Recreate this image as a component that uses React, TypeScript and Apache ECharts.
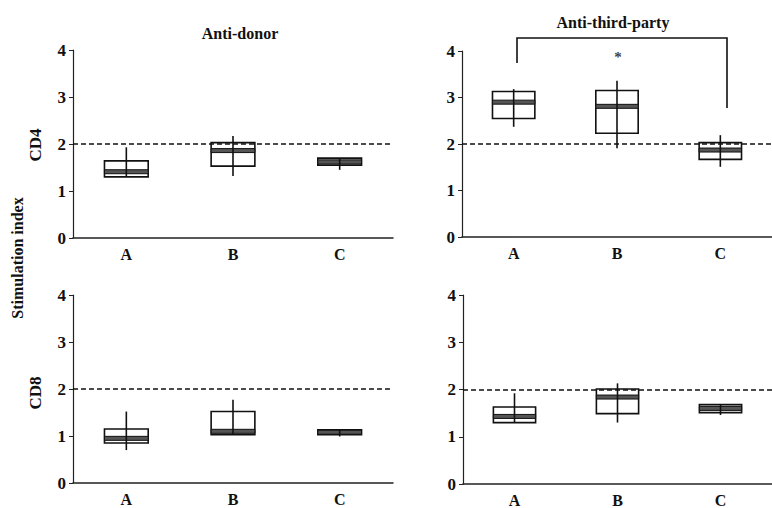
import React, { useEffect, useRef } from "react";
import * as echarts from "echarts";

const categories = ["A", "B", "C"];
const yTicks = [0, 1, 2, 3, 4];
const threshold = 2;

// rows: [min, q1, median, q3, max] for A, B, C
const cd4AntiDonor = [
  [1.3, 1.3, 1.41, 1.64, 1.93],
  [1.32, 1.53, 1.86, 2.03, 2.17],
  [1.45, 1.55, 1.62, 1.7, 1.7],
];
const cd4AntiThirdParty = [
  [2.37, 2.55, 2.9, 3.13, 3.18],
  [1.91, 2.23, 2.81, 3.15, 3.36],
  [1.51, 1.67, 1.87, 2.03, 2.19],
];
const cd8AntiDonor = [
  [0.7, 0.85, 0.95, 1.15, 1.52],
  [1.03, 1.03, 1.1, 1.52, 1.77],
  [0.99, 1.03, 1.08, 1.13, 1.13],
];
const cd8AntiThirdParty = [
  [1.3, 1.3, 1.43, 1.63, 1.92],
  [1.3, 1.49, 1.84, 2.01, 2.13],
  [1.46, 1.51, 1.6, 1.68, 1.68],
];

const panels = [cd4AntiDonor, cd4AntiThirdParty, cd8AntiDonor, cd8AntiThirdParty];
const grids = [
  { left: 73, top: 50, width: 320, height: 188 },
  { left: 462, top: 51, width: 318, height: 186 },
  { left: 73, top: 295, width: 320, height: 188 },
  { left: 463, top: 295, width: 318, height: 189 },
];

const FONT = "'Liberation Serif', 'Times New Roman', serif";

export default function App() {
  const ref = useRef<HTMLDivElement>(null);
  useEffect(() => {
    if (!ref.current) return;
    const chart = echarts.init(ref.current, null, { renderer: "svg" });

    const renderItem = (params: any, api: any) => {
      const x = api.value(0);
      const lo = api.coord([x, api.value(1)]);
      const q1 = api.coord([x, api.value(2)]);
      const med = api.coord([x, api.value(3)]);
      const q3 = api.coord([x, api.value(4)]);
      const hi = api.coord([x, api.value(5)]);
      const bw = api.size([1, 0])[0] * 0.41;
      return {
        type: "group",
        children: [
          {
            type: "rect",
            shape: { x: q3[0] - bw / 2, y: q3[1], width: bw, height: q1[1] - q3[1] },
            style: { fill: "#fff", stroke: "#111", lineWidth: 1.6 },
          },
          {
            type: "rect",
            shape: { x: med[0] - bw / 2, y: med[1] - 2, width: bw, height: 4 },
            style: { fill: "#555", stroke: "#111", lineWidth: 1 },
          },
          {
            type: "line",
            shape: { x1: lo[0], y1: lo[1], x2: hi[0], y2: hi[1] },
            style: { stroke: "#111", lineWidth: 1.6 },
          },
        ],
      };
    };

    const option: any = {
      animation: false,
      backgroundColor: "#fff",
      grid: grids.map((g) => ({ ...g })),
      xAxis: grids.map((_, i) => ({
        type: "category",
        gridIndex: i,
        data: categories,
        boundaryGap: true,
        axisLine: { lineStyle: { color: "#222", width: 1.5 } },
        axisTick: { show: false },
        axisLabel: {
          color: "#111",
          fontFamily: FONT,
          fontWeight: "bold",
          fontSize: 16,
          margin: 8,
        },
        splitLine: { show: false },
      })),
      yAxis: grids.map((_, i) => ({
        type: "value",
        gridIndex: i,
        min: yTicks[0],
        max: yTicks[yTicks.length - 1],
        interval: 1,
        axisLine: { show: true, lineStyle: { color: "#222", width: 1.2 } },
        axisTick: { show: true, inside: false, length: 4, lineStyle: { color: "#222" } },
        axisLabel: {
          color: "#111",
          fontFamily: FONT,
          fontWeight: "bold",
          fontSize: 17,
          margin: 7,
        },
        splitLine: { show: false },
      })),
      series: panels.map((rows, i) => ({
        type: "custom",
        xAxisIndex: i,
        yAxisIndex: i,
        renderItem,
        encode: { x: 0, y: [1, 2, 3, 4, 5] },
        data: rows.map((r, j) => [j, ...r]),
        markLine: {
          silent: true,
          symbol: "none",
          label: { show: false },
          lineStyle: { type: [5, 3], color: "#111", width: 1.5 },
          data: [{ yAxis: threshold }],
        },
      })),
      graphic: [
        {
          type: "text",
          x: 240,
          y: 33,
          style: {
            text: "Anti-donor",
            font: `bold 16px ${FONT}`,
            fill: "#111",
            textAlign: "center",
            textVerticalAlign: "middle",
          },
        },
        {
          type: "text",
          x: 613,
          y: 22,
          style: {
            text: "Anti-third-party",
            font: `bold 16px ${FONT}`,
            fill: "#111",
            textAlign: "center",
            textVerticalAlign: "middle",
          },
        },
        {
          type: "text",
          x: 35,
          y: 145,
          rotation: Math.PI / 2,
          style: {
            text: "CD4",
            font: `bold 17px ${FONT}`,
            fill: "#111",
            textAlign: "center",
            textVerticalAlign: "middle",
          },
        },
        {
          type: "text",
          x: 35,
          y: 393,
          rotation: Math.PI / 2,
          style: {
            text: "CD8",
            font: `bold 17px ${FONT}`,
            fill: "#111",
            textAlign: "center",
            textVerticalAlign: "middle",
          },
        },
        {
          type: "text",
          x: 17,
          y: 258,
          rotation: Math.PI / 2,
          style: {
            text: "Stimulation index",
            font: `bold 16px ${FONT}`,
            fill: "#111",
            textAlign: "center",
            textVerticalAlign: "middle",
          },
        },
        {
          type: "polyline",
          shape: { points: [[517, 63], [517, 38], [727, 38], [727, 108]] },
          style: { stroke: "#111", lineWidth: 1.6, fill: null },
        },
        {
          type: "text",
          x: 618,
          y: 57,
          style: {
            text: "*",
            font: `bold 15px ${FONT}`,
            fill: "#444",
            textAlign: "center",
            textVerticalAlign: "middle",
          },
        },
      ],
    };
    chart.setOption(option);
    return () => chart.dispose();
  }, []);

  return (
    <div
      ref={ref}
      style={{ position: "fixed", left: 0, top: 0, width: 772, height: 508, background: "#fff" }}
    />
  );
}
